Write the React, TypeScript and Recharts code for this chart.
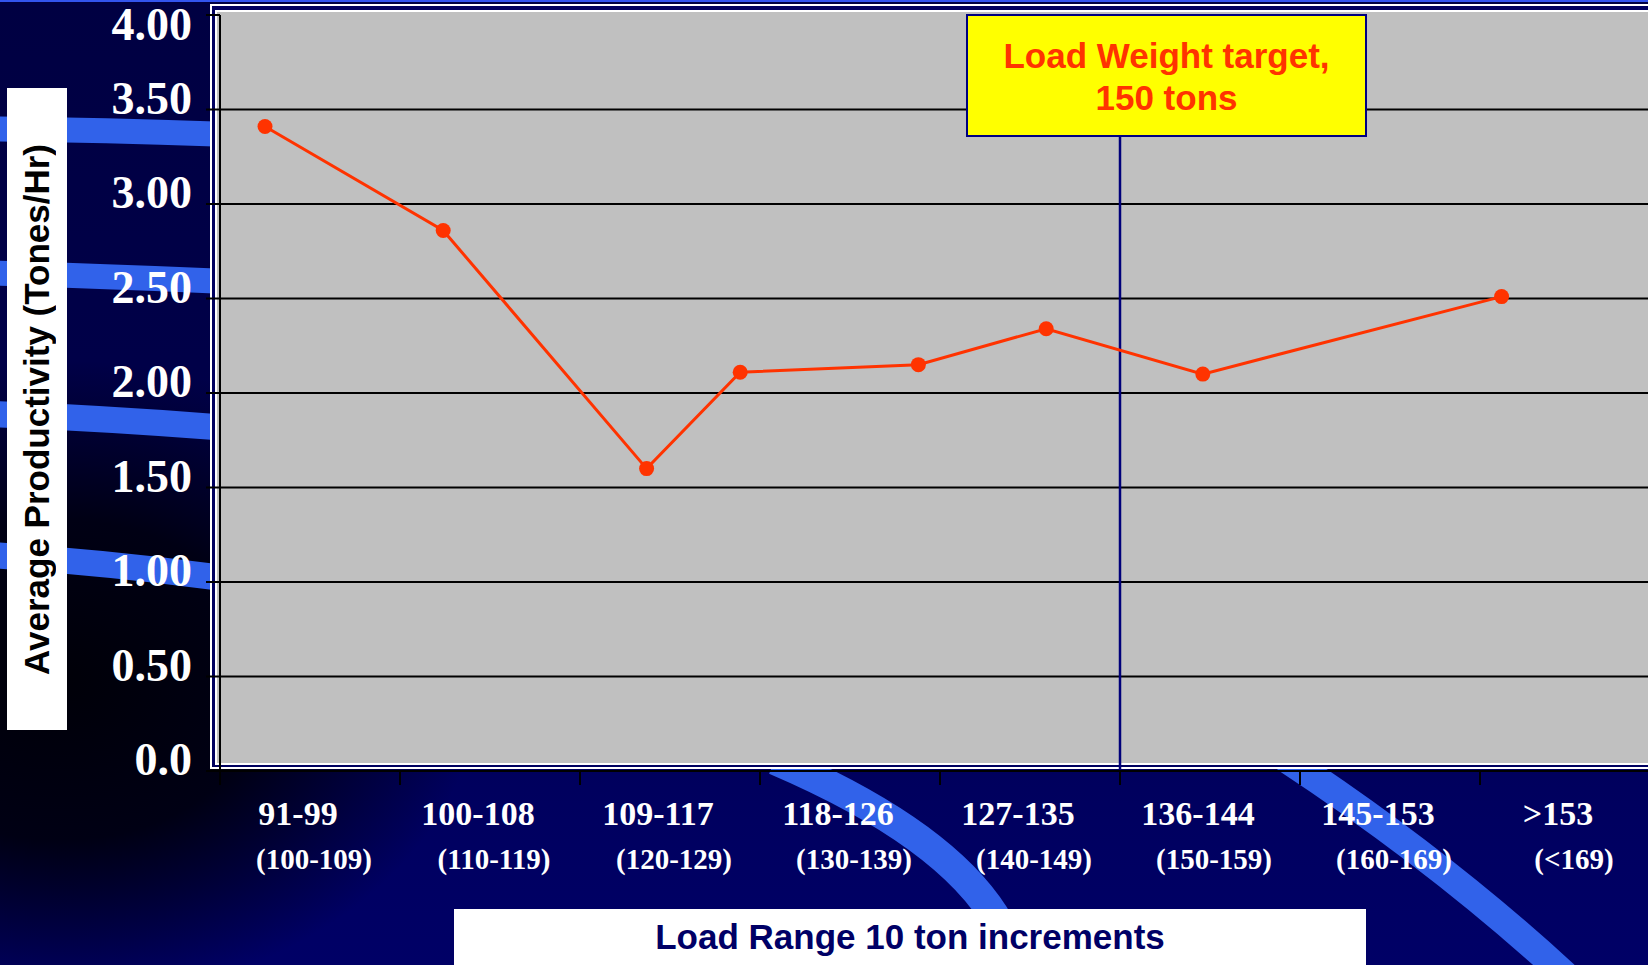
import React from 'react'
import {
  LineChart,
  Line,
  XAxis,
  YAxis,
  CartesianGrid,
  ReferenceLine,
} from 'recharts'

// load weight (tons) and average productivity for each load sample
const LOAD_TONS = [102.5, 112.4, 123.7, 128.9, 138.8, 145.9, 154.6, 171.2]
const PRODUCTIVITY = [3.41, 2.86, 1.6, 2.11, 2.15, 2.34, 2.1, 2.51]

// load range bins (10 ton increments)
const BIN_STARTS = [100, 110, 120, 130, 140, 150, 160, 170]
const BIN_LABELS = ['91-99', '100-108', '109-117', '118-126', '127-135', '136-144', '145-153', '>153']
const BIN_SUBLABELS = ['(100-109)', '(110-119)', '(120-129)', '(130-139)', '(140-149)', '(150-159)', '(160-169)', '(<169)']

const Y_TICKS = [0, 0.5, 1, 1.5, 2, 2.5, 3, 3.5, 4]
const Y_TICK_LABELS = ['0.0', '0.50', '1.00', '1.50', '2.00', '2.50', '3.00', '3.50', '4.00']
const GRID_VALUES = [0.5, 1, 1.5, 2, 2.5, 3, 3.5]

const TARGET_TONS = 150

const data = LOAD_TONS.map((tons, i) => ({ tons, value: PRODUCTIVITY[i] }))

const SERIF = '"Liberation Serif", "Times New Roman", serif'
const SANS = '"Liberation Sans", Arial, sans-serif'
const BIN_HALF_PX = 90

function YTick({ x, y, payload }: any) {
  const i = Y_TICKS.indexOf(payload.value)
  return (
    <text
      x={x}
      y={Math.max(y + 4, 40)}
      textAnchor="end"
      fill="#fff"
      fontFamily={SERIF}
      fontWeight="bold"
      fontSize={46}
    >
      {Y_TICK_LABELS[i]}
    </text>
  )
}

function XTick({ x, y, payload }: any) {
  const i = BIN_STARTS.indexOf(payload.value)
  if (i < 0) return null
  const cx = x + BIN_HALF_PX
  return (
    <g fill="#fff" fontFamily={SERIF} fontWeight="bold" textAnchor="middle">
      <text x={cx - 12} y={y + 40} fontSize={34}>
        {BIN_LABELS[i]}
      </text>
      <text x={cx + 4} y={y + 84} fontSize={29}>
        {BIN_SUBLABELS[i]}
      </text>
    </g>
  )
}

function Swooshes() {
  const band = { fill: 'none', stroke: '#3162ea' }
  return (
    <svg width={1648} height={965} style={{ position: 'absolute', left: 0, top: 0 }}>
      <path d="M -10 129 Q 100 130 215 134" strokeWidth={25} {...band} />
      <path d="M -10 273 Q 100 276 215 281" strokeWidth={25} {...band} />
      <path d="M -10 414 Q 100 418 215 427" strokeWidth={26} {...band} />
      <path d="M -10 555 Q 100 562 215 577" strokeWidth={26} {...band} />
      <path d="M 775 760 Q 950 835 1000 925" strokeWidth={30} {...band} />
      <path d="M 1285 758 Q 1440 860 1565 975" strokeWidth={28} {...band} />
      <rect x={0} y={0} width={1648} height={2} fill="#3355ee" />
    </svg>
  )
}

export default function App() {
  return (
    <div
      style={{
        position: 'absolute',
        left: 0,
        top: 0,
        width: 1648,
        height: 965,
        overflow: 'hidden',
        background:
          'radial-gradient(ellipse 420px 320px at 60px 680px, #000008 0%, #000014 50%, rgba(0,0,80,0) 100%), linear-gradient(#000042, #00004a 50%, #000060 85%, #000066)',
      }}
    >
      <Swooshes />

      {/* plot frame */}
      <div
        style={{
          position: 'absolute',
          left: 210,
          top: 4,
          width: 1500,
          height: 765,
          boxSizing: 'border-box',
          border: '2px solid #fff',
          background: '#000060',
        }}
      />
      <div
        style={{
          position: 'absolute',
          left: 215,
          top: 10,
          width: 1500,
          height: 755,
          boxSizing: 'border-box',
          border: '2px solid #fff',
          background: '#c0c0c0',
        }}
      />

      <div style={{ position: 'absolute', left: 0, top: 0 }}>
        <LineChart width={1660} height={965} data={data} margin={{ top: 15, right: 0, bottom: 94, left: 0 }}>
          <CartesianGrid
            horizontal
            vertical={false}
            horizontalValues={GRID_VALUES}
            stroke="#000"
            strokeWidth={2}
          />
          <XAxis
            dataKey="tons"
            type="number"
            domain={[100, 180]}
            ticks={BIN_STARTS}
            interval={0}
            height={100}
            tickSize={14}
            tickMargin={0}
            axisLine={{ stroke: '#000', strokeWidth: 2 }}
            tickLine={{ stroke: '#000', strokeWidth: 2 }}
            tick={<XTick />}
          />
          <YAxis
            type="number"
            domain={[0, 4]}
            ticks={Y_TICKS}
            interval={0}
            width={220}
            tickSize={14}
            tickMargin={14}
            axisLine={{ stroke: '#000', strokeWidth: 2 }}
            tickLine={{ stroke: '#000', strokeWidth: 2 }}
            tick={<YTick />}
          />
          <ReferenceLine x={TARGET_TONS} stroke="#00007a" strokeWidth={2.5} />
          <Line
            type="linear"
            dataKey="value"
            stroke="#ff3300"
            strokeWidth={3}
            dot={{ r: 7.5, fill: '#ff3300', stroke: 'none' }}
            isAnimationActive={false}
          />
        </LineChart>
      </div>

      {/* target annotation */}
      <div
        style={{
          position: 'absolute',
          left: 966,
          top: 14,
          width: 401,
          height: 123,
          boxSizing: 'border-box',
          border: '2px solid #000080',
          background: '#ffff00',
          color: '#ff3300',
          fontFamily: SANS,
          fontWeight: 'bold',
          fontSize: 35,
          lineHeight: '42px',
          textAlign: 'center',
          display: 'flex',
          flexDirection: 'column',
          justifyContent: 'center',
          paddingTop: 3,
        }}
      >
        <div>Load Weight target,</div>
        <div>150 tons</div>
      </div>

      {/* y axis title */}
      <div
        style={{
          position: 'absolute',
          left: 7,
          top: 88,
          width: 60,
          height: 642,
          background: '#fff',
          display: 'flex',
          alignItems: 'center',
          justifyContent: 'center',
        }}
      >
        <span
          style={{
            writingMode: 'vertical-rl',
            transform: 'rotate(180deg)',
            fontFamily: SANS,
            fontWeight: 'bold',
            fontSize: 35,
            color: '#000',
            whiteSpace: 'nowrap',
          }}
        >
          Average Productivity (Tones/Hr)
        </span>
      </div>

      {/* x axis title */}
      <div
        style={{
          position: 'absolute',
          left: 454,
          top: 909,
          width: 912,
          height: 56,
          background: '#fff',
          display: 'flex',
          alignItems: 'center',
          justifyContent: 'center',
          fontFamily: SANS,
          fontWeight: 'bold',
          fontSize: 35,
          color: '#000066',
        }}
      >
        Load Range 10 ton increments
      </div>
    </div>
  )
}
